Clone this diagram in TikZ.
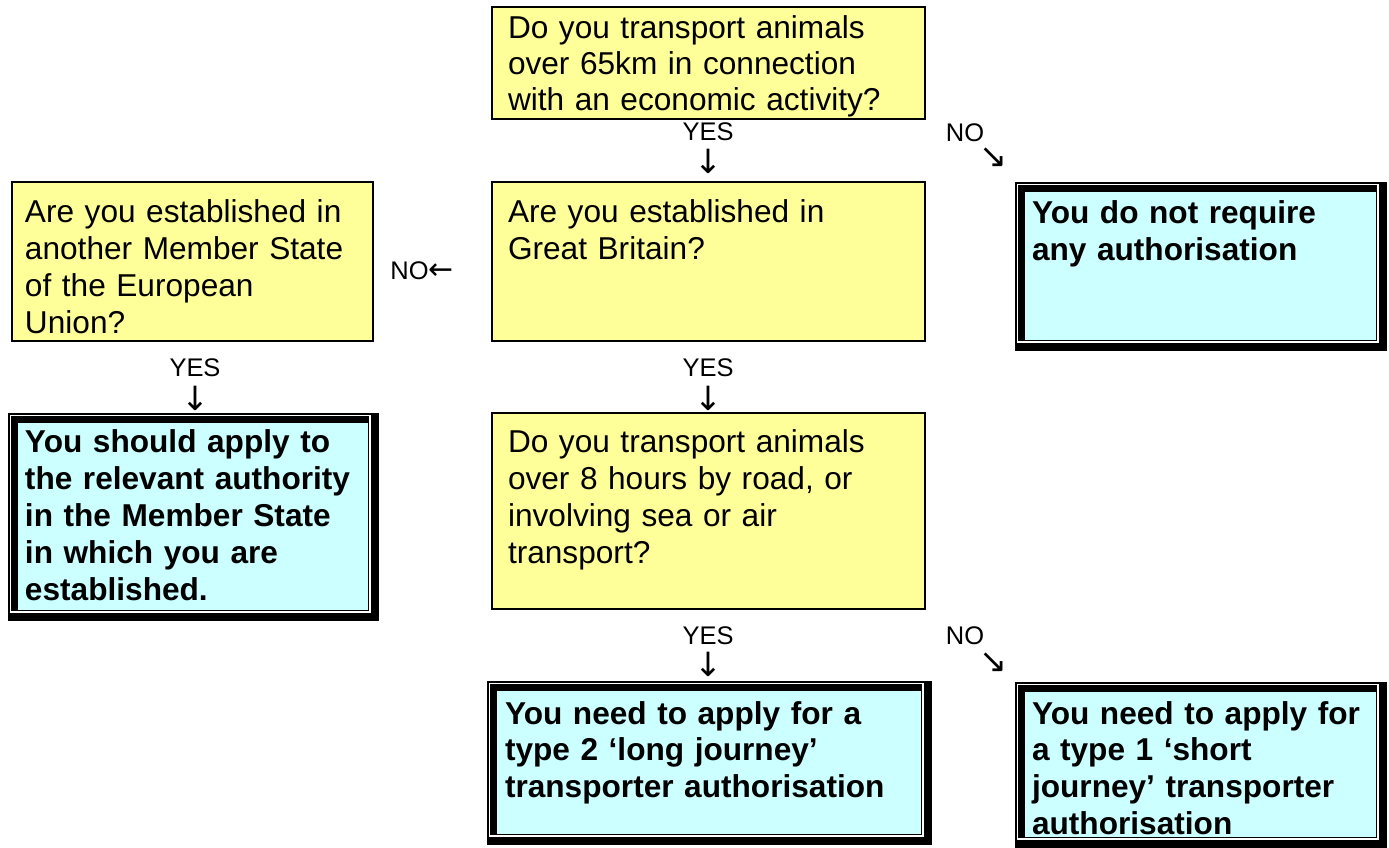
\documentclass[tikz,border=0pt]{standalone}
\usepackage{fontspec}
\setmainfont{Liberation Sans}
\newfontfamily\arrowfont{DejaVu Sans}
\usepackage{tikz}

\definecolor{paleyellow}{HTML}{FFFF99}
\definecolor{palecyan}{HTML}{CCFFFF}

\begin{document}
\begin{tikzpicture}[x=0.02cm,y=-0.02cm,
  question/.style={draw=black,line width=0.9pt,fill=paleyellow,anchor=north west,
    outer sep=0pt,inner ysep=0pt,align=left,font=\fontsize{18}{21}\selectfont},
  answer/.style={fill=black,anchor=north west,outer sep=0pt,inner ysep=0pt,align=left,
    font=\fontsize{18}{21}\selectfont\bfseries,
    path picture={
      \draw[white,line width=0.9pt] ([shift={(2.5,2.5)}]path picture bounding box.north west)
        rectangle ([shift={(-9,-9)}]path picture bounding box.south east);
      \fill[palecyan] ([shift={(10,10)}]path picture bounding box.north west)
        rectangle ([shift={(-11,-11)}]path picture bounding box.south east);
    }},
  choice/.style={inner sep=0pt,font=\fontsize{14.5}{17}\selectfont},
  pointer/.style={inner sep=0pt,font=\arrowfont\fontsize{19}{20}\selectfont}]
\useasboundingbox (0,0) rectangle (1389,848);

\node[question,font=\fontsize{18}{20.3}\selectfont,text width=8.02cm,inner xsep=0.32cm,
  text height=0.64cm,text depth=1.60cm]
  (q65) at (492,7) {Do you transport animals\\over 65km in connection\\with an economic activity?};
\node[question,text width=8.02cm,inner xsep=0.32cm,text height=0.82cm,text depth=2.36cm]
  (qGB) at (492,182) {Are you established in\\Great Britain?};
\node[question,text width=6.70cm,inner xsep=0.26cm,text height=0.82cm,text depth=2.36cm]
  (qEU) at (12,182) {Are you established in\\another Member State\\of the European\\Union?};
\node[question,text width=8.02cm,inner xsep=0.32cm,text height=0.80cm,text depth=3.12cm]
  (q8h) at (492,413) {Do you transport animals\\over 8 hours by road, or\\involving sea or air\\transport?};

\node[answer,text width=6.74cm,inner xsep=0.34cm,text height=0.80cm,text depth=3.36cm]
  (aEU) at (8,413) {You should apply to\\the relevant authority\\in the Member State\\in which you are\\established.};
\node[answer,text width=6.76cm,inner xsep=0.34cm,text height=0.84cm,text depth=2.54cm]
  (aNone) at (1015,182) {You do not require\\any authorisation};
\node[answer,text width=8.18cm,inner xsep=0.36cm,text height=0.86cm,text depth=2.42cm]
  (aLong) at (487,681) {You need to apply for a\\type 2 ‘long journey’\\transporter authorisation};
\node[answer,text width=6.76cm,inner xsep=0.34cm,text height=0.84cm,text depth=2.48cm]
  (aShort) at (1015,682) {You need to apply for\\a type 1 ‘short\\journey’ transporter\\authorisation};

\node[choice] (yes65) at (708,132) {YES};
\node[pointer] (down65) at (708,161) {↓};
\node[choice] (no65) at (965,133) {NO};
\node[pointer] (side65) at (993,158) {↘};

\node[choice] (noGB) at (422,271) {NO{\arrowfont\fontsize{17}{17}\selectfont ←}};
\node[choice] (yesGB) at (708,368) {YES};
\node[pointer] (downGB) at (708,398) {↓};

\node[choice] (yesEU) at (195,368) {YES};
\node[pointer] (downEU) at (195,398) {↓};

\node[choice] (yes8h) at (708,636) {YES};
\node[pointer] (down8h) at (708,664) {↓};
\node[choice] (no8h) at (965,636) {NO};
\node[pointer] (side8h) at (993,663) {↘};
\end{tikzpicture}
\end{document}
